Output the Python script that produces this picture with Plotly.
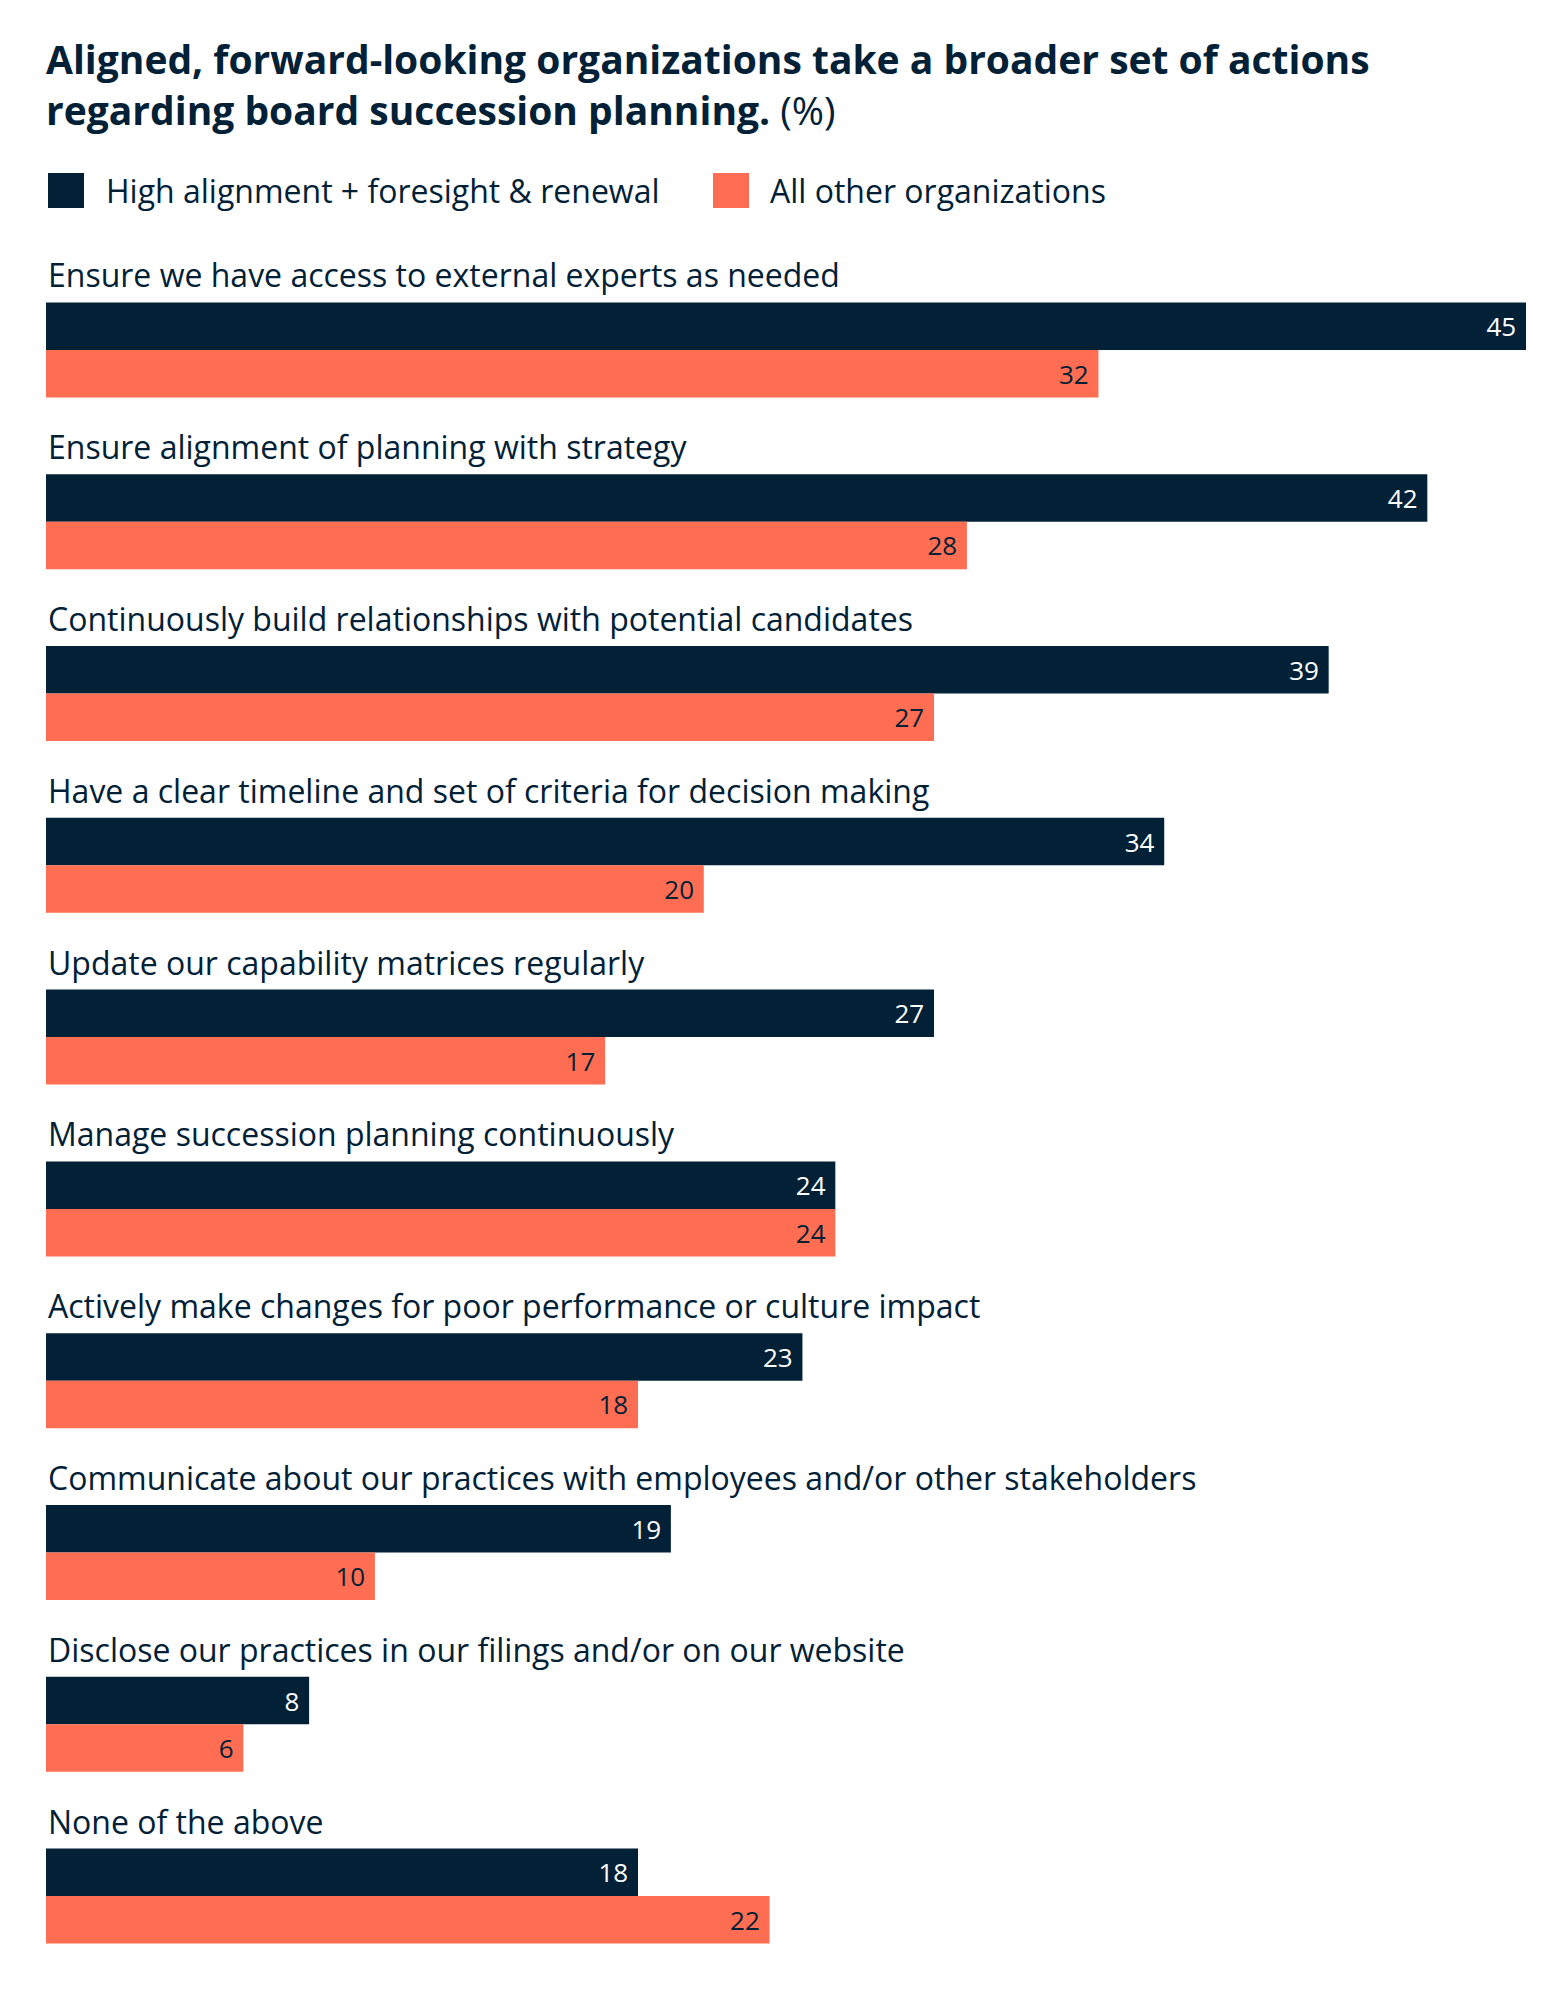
import plotly.graph_objects as go

# ---- data ----
actions = [
    "Ensure we have access to external experts as needed",
    "Ensure alignment of planning with strategy",
    "Continuously build relationships with potential candidates",
    "Have a clear timeline and set of criteria for decision making",
    "Update our capability matrices regularly",
    "Manage succession planning continuously",
    "Actively make changes for poor performance or culture impact",
    "Communicate about our practices with employees and/or other stakeholders",
    "Disclose our practices in our filings and/or on our website",
    "None of the above",
]
high_alignment = [45, 42, 39, 34, 27, 24, 23, 19, 8, 18]
all_other = [32, 28, 27, 20, 17, 24, 18, 10, 6, 22]

series_names = ["High alignment + foresight & renewal", "All other organizations"]

NAVY = "#022136"
CORAL = "#FF6D52"
FONT = "Open Sans"

# the page body has an 8px margin, so the figure is a bit smaller than the window
W, H = 1558, 1988
L, T = 38, 256          # plot area starts at 46 / 264 on the page
PLOT_W = 1480

fig = go.Figure()

fig.add_trace(go.Bar(
    y=actions, x=high_alignment, orientation="h", name=series_names[0],
    marker=dict(color=NAVY, line=dict(width=0)),
    texttemplate="%{x}\u00a0", textposition="inside",
    insidetextanchor="end", textfont=dict(family=FONT, size=26, color="white"),
    constraintext="none", hoverinfo="skip",
))
fig.add_trace(go.Bar(
    y=actions, x=all_other, orientation="h", name=series_names[1],
    marker=dict(color=CORAL, line=dict(width=0)),
    texttemplate="%{x}\u00a0", textposition="inside",
    insidetextanchor="end", textfont=dict(family=FONT, size=26, color=NAVY),
    constraintext="none", hoverinfo="skip",
))

# category labels above each pair of bars
for a in actions:
    fig.add_annotation(
        x=0, xref="paper", y=a, yref="y", yshift=75,
        xanchor="left", yanchor="middle", showarrow=False,
        text=a, font=dict(family=FONT, size=32, color=NAVY),
    )

# legend drawn by hand so the swatches can be large squares
legend_items = [(series_names[0], NAVY, 48, 104), (series_names[1], CORAL, 713, 768)]
for name, col, sx, tx in legend_items:
    fig.add_shape(type="rect", xref="paper", yref="paper",
                  xsizemode="pixel", ysizemode="pixel",
                  xanchor=(sx - 46) / PLOT_W, yanchor=1,
                  x0=0, x1=36, y0=264 - 173, y1=264 - 208,
                  fillcolor=col, line=dict(width=0))
    fig.add_annotation(
        x=(tx - 46) / PLOT_W, xref="paper", y=1, yref="paper",
        yshift=264 - 190, xanchor="left", yanchor="middle", showarrow=False,
        text=name, font=dict(family=FONT, size=32, color=NAVY),
    )

fig.update_layout(
    width=W, height=H,
    barmode="group", bargap=0.447, bargroupgap=0,
    showlegend=False,
    plot_bgcolor="white", paper_bgcolor="white",
    margin=dict(l=L, r=W - L - PLOT_W, t=T, b=14),
    title=dict(
        text="<b>Aligned, forward-looking organizations take a broader set of actions<br>"
             "regarding board succession planning.</b> (%)",
        font=dict(family=FONT, size=39, color=NAVY),
        x=38 / W, xref="container", xanchor="left",
        y=1 - 66 / H, yref="container", yanchor="top",
    ),
    xaxis=dict(range=[0, 45], visible=False, showgrid=False, zeroline=False),
    yaxis=dict(type="category", categoryorder="array", categoryarray=actions,
               range=[len(actions) - 0.5, -0.5], visible=False, showgrid=False),
)

fig.write_html("out.html")
